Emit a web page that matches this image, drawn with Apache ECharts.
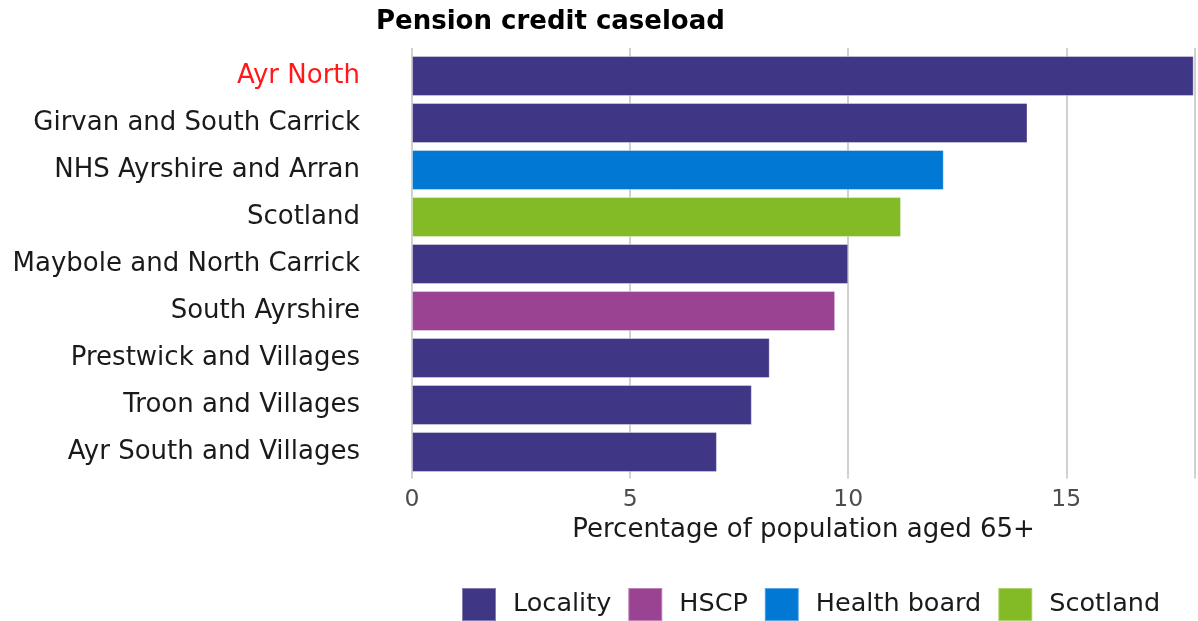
<!DOCTYPE html>
<html>
<head>
<meta charset="utf-8">
<script src="https://cdn.jsdelivr.net/npm/echarts@6/dist/echarts.min.js"></script>
<style>html,body{margin:0;padding:0;background:#fff}#c{width:1198px;height:621px}</style>
</head>
<body>
<div id="c"></div>
<script>
const categories = ["Ayr North","Girvan and South Carrick","NHS Ayrshire and Arran","Scotland","Maybole and North Carrick","South Ayrshire","Prestwick and Villages","Troon and Villages","Ayr South and Villages"];
const values = [17.92,14.11,12.19,11.21,10.0,9.70,8.20,7.79,6.99];
const types = ["Locality","Locality","Health board","Scotland","Locality","HSCP","Locality","Locality","Locality"];
const typeNames = ["Locality","HSCP","Health board","Scotland"];
const typeColors = {"Locality":"#3f3685","HSCP":"#9b4393","Health board":"#0078d4","Scotland":"#83bb26"};
const xTicks = [0,5,10,15];
const highlight = "Ayr North";

const chart = echarts.init(document.getElementById('c'), null, {renderer:'canvas'});
const FONT = "DejaVu Sans";
const GRID_COLOR = '#d0d0d0';
const series = typeNames.map(t => ({
  name: t,
  type: 'bar',
  stack: 'all',
  barWidth: 40,
  itemStyle: {color: typeColors[t], borderColor: 'rgba(255,255,255,0.35)', borderWidth: 1},
  data: values.map((v,i) => types[i] === t ? v : '-'),
  emphasis: {disabled: true}
}));
const xBase = {
  type: 'value', min: 0, max: 17.95, interval: 5,
  axisLine: {show: false},
  splitLine: {show: false}
};
chart.setOption({
  animation: false,
  textStyle: {fontFamily: FONT},
  title: {text: 'Pension credit caseload', left: 371, top: 4,
    textStyle: {fontFamily: FONT, fontWeight: 'bold', fontSize: 26, color: '#000'}},
  grid: {left: 412, right: 0, top: 52.5, height: 423, containLabel: false},
  xAxis: [
    Object.assign({}, xBase, {
      position: 'bottom',
      name: 'Percentage of population aged 65+', nameLocation: 'middle', nameGap: 41.5,
      nameTextStyle: {fontFamily: FONT, fontSize: 26, color: '#1a1a1a'},
      axisTick: {show: true, length: 3, lineStyle: {color: GRID_COLOR, width: 2}},
      axisLabel: {fontFamily: FONT, fontSize: 23.5, color: '#4d4d4d', margin: 12.5,
        formatter: v => xTicks.includes(v) ? String(v) : ''},
      splitLine: {show: true, lineStyle: {color: GRID_COLOR, width: 2}}
    }),
    Object.assign({}, xBase, {
      position: 'top',
      axisTick: {show: true, length: 4.5, lineStyle: {color: GRID_COLOR, width: 2}},
      axisLabel: {show: false}
    })
  ],
  yAxis: {
    type: 'category', data: categories, inverse: true,
    axisLine: {show: false}, axisTick: {show: false},
    axisLabel: {fontFamily: FONT, fontSize: 26, margin: 52,
      color: (v) => v === highlight ? '#ff1a1a' : '#1a1a1a'}
  },
  legend: {
    data: typeNames, left: 461, top: 587, padding: 0,
    itemWidth: 34, itemHeight: 33, itemGap: 16,
    icon: 'rect',
    textStyle: {fontFamily: FONT, fontSize: 25.5, color: '#1a1a1a', padding: [0,0,0,12]},
    selectedMode: false
  },
  series: series
});
</script>
</body>
</html>
